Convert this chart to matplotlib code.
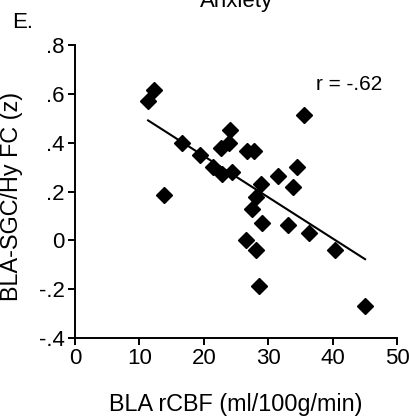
import numpy as np
import matplotlib
matplotlib.use("Agg")
import matplotlib.pyplot as plt

# 讀圖估計的數值
rcbf = [11.35, 12.28, 13.8, 16.6, 19.35, 21.5, 22.8, 24.4, 22.7, 23.95,
        24.06, 26.7, 27.8, 28.1, 27.5, 35.5, 34.4, 31.5, 33.9, 28.9,
        29.07, 33.05, 36.3, 26.5, 28.1, 40.3, 28.5, 45.04]
fc_z = [0.569, 0.614, 0.187, 0.397, 0.348, 0.30, 0.27, 0.28, 0.38, 0.399,
        0.452, 0.368, 0.368, 0.177, 0.127, 0.515, 0.30, 0.262, 0.22, 0.231,
        0.073, 0.062, 0.03, 0.001, -0.038, -0.041, -0.186, -0.268]
x_ticks = [0, 10, 20, 30, 40, 50]
y_ticks = [-0.4, -0.2, 0, 0.2, 0.4, 0.6, 0.8]
y_tick_labels = ["-.4", "-.2", "0", ".2", ".4", ".6", ".8"]

plt.rcParams["font.family"] = ["Liberation Sans", "DejaVu Sans"]

fig = plt.figure(figsize=(4.09, 4.17), dpi=100)
ax = fig.add_axes([0.1834, 0.1894, 0.7873, 0.7026])

x = np.array(rcbf)
y = np.array(fc_z)
ax.plot(x, y, "D", color="black", ms=8, mec="black")

# 回歸線
slope, intercept = np.polyfit(x, y, 1)
xl = np.array([x.min(), x.max()])
ax.plot(xl, slope * xl + intercept, color="black", lw=1.5)

ax.set_xlim(0, 50)
ax.set_ylim(-0.4, 0.8)
ax.set_xticks(x_ticks)
ax.set_yticks(y_ticks)
ax.set_yticklabels(y_tick_labels)
ax.tick_params(labelsize=16, width=1.4, length=5, direction="out", pad=2.5)
ax.spines["top"].set_visible(False)
ax.spines["right"].set_visible(False)
for s in ["left", "bottom"]:
    ax.spines[s].set_linewidth(1.4)
ax.set_xlabel("BLA rCBF (ml/100g/min)", fontsize=16.8, labelpad=17)
ax.set_ylabel("BLA-SGC/Hy FC (z)", fontsize=16.8)
ax.yaxis.set_label_coords(-0.163, 0.483)
ax.text(42.6, 0.637, "r = -.62", fontsize=15, ha="center", va="center")

fig.text(237 / 409, 1 - 7 / 417, "Anxiety", fontsize=16, ha="center", va="baseline")
fig.text(12 / 409, 1 - 28 / 417, "E.", fontsize=16, ha="left", va="baseline")

fig.savefig("out.png", dpi=100)
